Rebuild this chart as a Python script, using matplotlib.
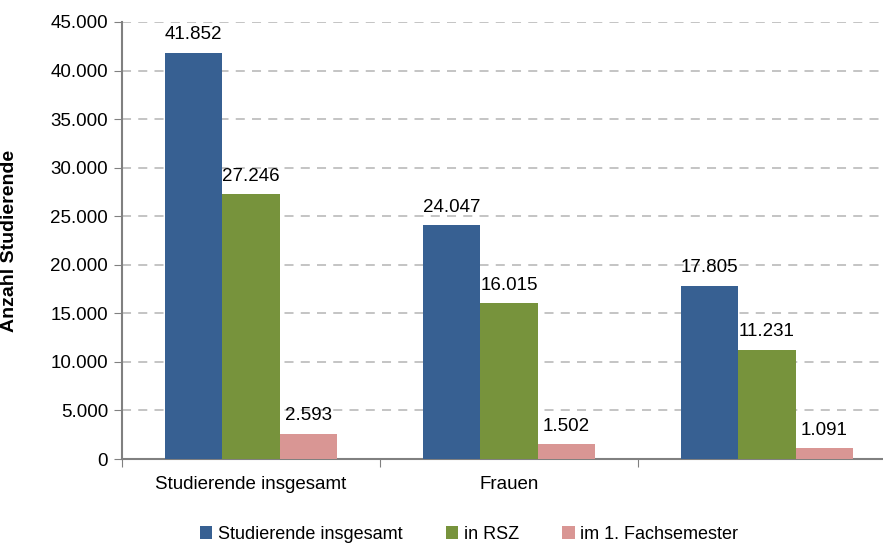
import matplotlib
matplotlib.use('Agg')
import matplotlib.pyplot as plt
from matplotlib.ticker import FuncFormatter
import numpy as np

plt.rcParams['font.family'] = ['Liberation Sans', 'DejaVu Sans']

categories = ['Studierende insgesamt', 'Frauen', '']
series_names = ['Studierende insgesamt', 'in RSZ', 'im 1. Fachsemester']
insgesamt = [41852, 24047, 17805]
in_rsz = [27246, 16015, 11231]
erstsemester = [2593, 1502, 1091]
colors = ['#376092', '#77933C', '#D99694']


def de_fmt(v):
    return f"{v:,.0f}".replace(',', '.')


fig = plt.figure(figsize=(8.83, 5.44), dpi=100)
ax = fig.add_axes([122 / 883, 1 - 459 / 544, 761 / 883, 437 / 544])

x = np.arange(len(categories))
w = 0.223
for i, (vals, name, col) in enumerate(zip([insgesamt, in_rsz, erstsemester], series_names, colors)):
    pos = x + (i - 1) * w
    ax.bar(pos, vals, width=w, color=col, label=name, edgecolor='none', zorder=3)
    for px, v in zip(pos, vals):
        ax.annotate(de_fmt(v), (px, v), xytext=(0, 7), textcoords='offset points',
                    ha='center', va='bottom', fontsize=13.5, color='black')

ax.set_yticks(np.arange(0, 45001, 5000))
ax.yaxis.set_major_formatter(FuncFormatter(lambda v, p: de_fmt(v)))
ax.tick_params(axis='y', labelsize=13.5, length=6, color='#808080', pad=4)
ax.grid(axis='y', linestyle=(0, (5, 4)), color='#bfbfbf', linewidth=1.3, zorder=0)

ax.set_xticks([-0.5, 0.5, 1.5, 2.5])
ax.set_xticklabels([])
ax.set_xticks(x, minor=True)
ax.set_xticklabels(categories, minor=True)
ax.tick_params(axis='x', which='major', length=6, color='#808080')
ax.tick_params(axis='x', which='minor', length=0, labelsize=13.5, pad=12)

# limits after ticks, otherwise set_xticks widens the view
ax.set_ylim(0, 45000)
ax.set_xlim(-0.5, -0.5 + 761 / 258)

for s in ['top', 'right']:
    ax.spines[s].set_visible(False)
for s in ['left', 'bottom']:
    ax.spines[s].set_color('#808080')
    ax.spines[s].set_linewidth(1.5)

ax.set_ylabel('Anzahl Studierende', fontsize=14, fontweight='bold')
ax.yaxis.set_label_coords(-0.137, 0.5)

fig.legend(loc='center', bbox_to_anchor=(0.531, 0.018), ncol=3, frameon=False,
           fontsize=13, handlelength=0.7, handleheight=0.7, handletextpad=0.3,
           columnspacing=2.4)

fig.savefig('out.png', dpi=100)
